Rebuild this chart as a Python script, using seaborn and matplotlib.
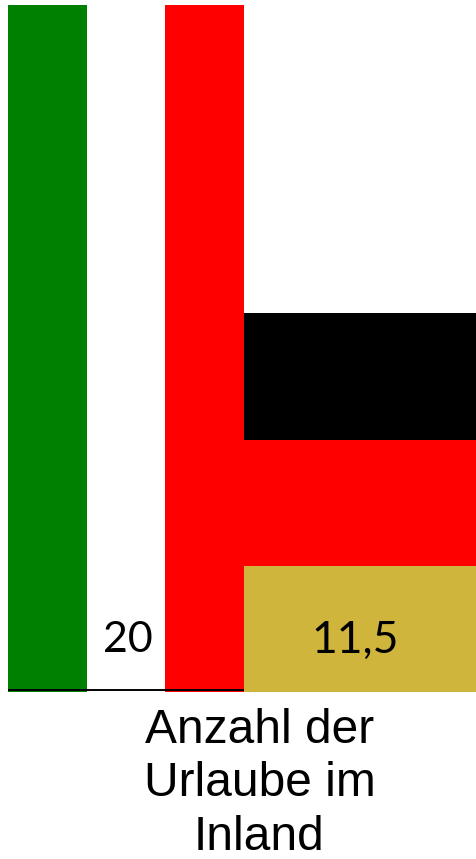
import matplotlib
matplotlib.use('Agg')
import matplotlib.pyplot as plt
import seaborn as sns

# Italien: drei Streifen gleicher Hoehe
streifen = ['gruen', 'weiss', 'rot']
italien_werte = [20, 20, 20]
italien_farben = ['#008000', '#ffffff', '#ff0000']

# Deutschland: ein Balken (11,5), Flagge von unten nach oben
deutschland_anteile = [3.68, 3.67, 3.68]
deutschland_farben = ['#cfb53b', '#ff0000', '#000000']

wert_labels = ['20', '11,5']
kategorie = 'Anzahl der\nUrlaube im\nInland'

sns.set_theme(style='white')
plt.rcParams['font.family'] = ['Liberation Sans', 'DejaVu Sans']

fig = plt.figure(figsize=(4.76, 8.59), dpi=100)
ax = fig.add_axes([8 / 476, 1 - 692 / 859, 468 / 476, 687 / 859])

sns.barplot(x=streifen, y=italien_werte, hue=streifen, palette=italien_farben,
            width=1, legend=False, saturation=1, linewidth=0, ax=ax)

# Deutschland schliesst rechts an die Streifen an
links = 2.5
breite = 232 / 78.67
unten = 0
for wert, farbe in zip(deutschland_anteile, deutschland_farben):
    ax.bar(links, wert, width=breite, bottom=unten, align='edge', color=farbe, linewidth=0)
    unten += wert

ax.set_xlim(-0.5, links + breite)
ax.set_ylim(0, 20)
ax.set_xticks([])
ax.set_yticks([])
ax.set_xlabel('')
ax.set_ylabel('')
sns.despine(ax=ax, left=True, bottom=True)
ax.plot([-0.5, 2.5], [0.05, 0.05], color='black', lw=1.4, solid_capstyle='butt')

ax.text(1.03, 1.5, wert_labels[0], ha='center', va='center', fontsize=31, family=['Lato', 'DejaVu Sans'], color='black')
ax.text(links + breite / 2 - 0.06, 1.5, wert_labels[1], ha='center', va='center', fontsize=32, family=['Lato', 'DejaVu Sans'], color='black')

fig.text(259.5 / 476, 1 - 784 / 859, kategorie, ha='center', va='center', fontsize=34.5, color='black', linespacing=1.235)

fig.savefig('out.png', dpi=100)
